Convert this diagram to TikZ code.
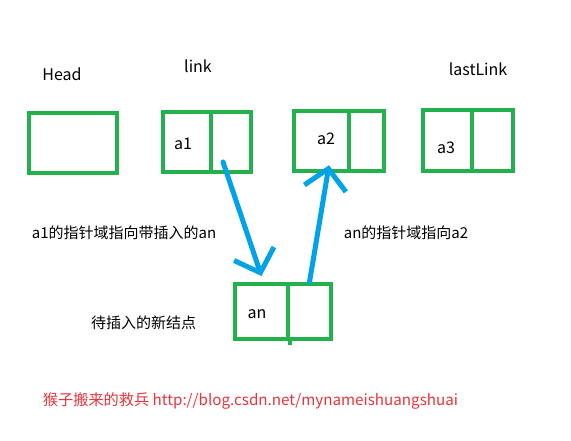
\documentclass[tikz,border=0pt]{standalone}
\usepackage{fontspec}
\setmainfont{Noto Sans CJK SC}
\usetikzlibrary{arrows.meta}
\definecolor{boxgreen}{HTML}{22B14C}
\definecolor{linkblue}{HTML}{00A2E8}
\definecolor{markred}{HTML}{E8343B}

\begin{document}
\begin{tikzpicture}[x=1pt,y=-1pt,
	cell/.style={draw=boxgreen, line width=4.5pt, minimum height=60pt, inner sep=0pt},
	title/.style={font=\fontsize{16}{16}\selectfont},
	txt/.style={font=\fontsize{15}{15}\selectfont},
	ptr/.style={draw=linkblue, line width=5pt, line cap=round, -{Straight Barb[length=20pt,width=42pt]}}]
			\useasboundingbox (0,0) rectangle (571,441);
			\node[cell, minimum width=88pt] (head) at (73,143) {};
			\node[cell, minimum width=48pt] (a1) at (187,142) {};
			\node[cell, minimum width=40pt] (p1) at (231,142) {};
			\node[cell, minimum width=55pt] (a2) at (321.5,141) {};
			\node[cell, minimum width=35pt] (p2) at (366.5,141) {};
			\node[cell, minimum width=49pt, minimum height=61pt] (a3) at (447.5,140.5) {};
			\node[cell, minimum width=41pt, minimum height=61pt] (p3) at (492.5,140.5) {};
			\node[cell, line width=4pt, minimum width=53pt, minimum height=55pt] (an) at (261.5,311.5) {};
			\node[cell, line width=4pt, minimum width=43pt, minimum height=55pt] (pn) at (309.5,311.5) {};
			\draw[boxgreen, line width=4pt] (an.south east) -- ++(0,4);
			\node[title] (headname) at (62,74) {Head};
			\node[title] (linkname) at (198,66) {link};
			\node[title] (lastname) at (478,69) {lastLink};
			\node[title] (a1val) at (183,144) {a1};
			\node[title] (a2val) at (326,139) {a2};
			\node[title] (a3val) at (446,148) {a3};
			\node[title] (anval) at (257,314) {an};
			\node[txt] (note1) at (124,233) {a1的指针域指向带插入的an};
			\node[txt] (note2) at (406,233) {an的指针域指向a2};
			\node[txt] (note3) at (143.5,323) {待插入的新结点};
			\node[font=\fontsize{15.2}{15.2}\selectfont, text=markred] (mark) at (250.5,401) {猴子搬来的救兵 http://blog.csdn.net/mynameishuangshuai};
			\coordinate (s1) at (223,162);
			\draw[ptr] (s1) -- ([yshift=6pt]an.north);
			\draw[ptr] (pn.north) -- ([xshift=7.5pt,yshift=8pt]a2.south);
		\end{tikzpicture}
\end{document}
